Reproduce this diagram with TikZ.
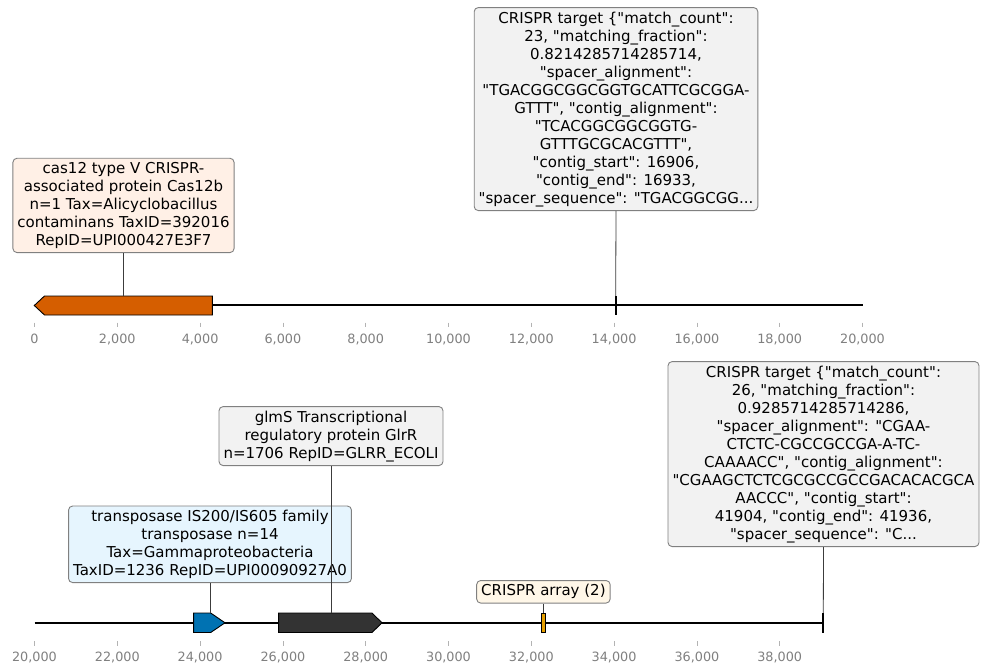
\documentclass[tikz,border=0pt]{standalone}
\usepackage{fontspec}
\setmainfont{DejaVu Sans}[Ligatures=TeXOff]
\definecolor{boxedge}{RGB}{128,128,128}
\definecolor{stemgray}{RGB}{60,60,60}
\definecolor{tickgray}{RGB}{128,128,128}
\definecolor{casfill}{RGB}{213,94,0}
\definecolor{bluefill}{RGB}{0,114,178}
\definecolor{darkfill}{RGB}{51,51,51}
\definecolor{arrfill}{RGB}{230,159,0}
\definecolor{boxorange}{RGB}{255,240,230}
\definecolor{boxblue}{RGB}{230,245,254}
\definecolor{boxgray}{RGB}{242,242,242}
\definecolor{boxcream}{RGB}{255,247,232}
\tikzset{
  lbl/.style={draw=boxedge, rounded corners=4bp, line width=0.9bp, align=center,
    inner xsep=4.5bp, inner ysep=4bp, font=\fontsize{15bp}{18bp}\selectfont, anchor=south},
  gene/.style={draw=black, line width=0.9bp},
  stem/.style={draw=stemgray, line width=0.8bp},
  axisline/.style={draw=black, line width=1.5bp},
  ticklbl/.style={text=tickgray, font=\fontsize{12.8bp}{15bp}\selectfont},
  tickmark/.style={draw=tickgray!60, line width=0.8bp},
  target/.style={draw=black, line width=2bp},
}
\begin{document}
\begin{tikzpicture}[x=1bp,y=-1bp]
\useasboundingbox[fill=white] (0,0) rectangle (986,672);

% ---------- top track ----------
\draw[axisline] (34.5,305) -- (862.5,305);
\foreach \i/\lab in {0/0,1/{2,000},2/{4,000},3/{6,000},4/{8,000},5/{10,000},6/{12,000},7/{14,000},8/{16,000},9/{18,000},10/{20,000}}{
  \draw[tickmark] (34.5+\i*82.8,322.5) -- (34.5+\i*82.8,327);
  \node[ticklbl] at (34.5+\i*82.8,339) {\lab};
}
\draw[gene, fill=casfill] (34.3,305.5) -- (44.5,296) -- (212.3,296) -- (212.3,315) -- (44.5,315) -- cycle;
\coordinate (g1) at (123.5,296);
\draw[target] (615.7,296) -- (615.7,315);
\coordinate (t1) at (615.7,296);

\node[lbl, fill=boxorange] (b1) at (123.5,253) {cas12 type V CRISPR-\\associated protein Cas12b\\n=1 Tax=Alicyclobacillus\\contaminans TaxID=392016\\RepID=UPI000427E3F7};
\node[lbl, fill=boxgray] (b2) at (616,211) {CRISPR target \{"match\_count":\\23, "matching\_fraction":\\0.8214285714285714,\\"spacer\_alignment":\\"TGACGGCGGCGGTGCATTCGCGGA-\\GTTT", "contig\_alignment":\\"TCACGGCGGCGGTG-\\GTTTGCGCACGTTT",\\"contig\_start": 16906,\\"contig\_end": 16933,\\"spacer\_sequence": "TGACGGCGG...};
\draw[stem] (b1.south) -- (g1);
\draw[stem] (b2.south) -- (t1);

% ---------- bottom track ----------
\draw[axisline] (34.5,623) -- (823.3,623);
\foreach \i/\lab in {0/{20,000},1/{22,000},2/{24,000},3/{26,000},4/{28,000},5/{30,000},6/{32,000},7/{34,000},8/{36,000},9/{38,000}}{
  \draw[tickmark] (34.5+\i*82.8,641) -- (34.5+\i*82.8,645.5);
  \node[ticklbl] at (34.5+\i*82.8,657.5) {\lab};
}
\draw[gene, fill=bluefill] (193.6,613) -- (210.7,613) -- (225,622.8) -- (210.7,632.5) -- (193.6,632.5) -- cycle;
\coordinate (g2) at (210,613);
\draw[gene, fill=darkfill] (278.6,613) -- (372,613) -- (382,622.8) -- (372,632.5) -- (278.6,632.5) -- cycle;
\coordinate (g3) at (331,613);
\draw[gene, fill=arrfill] (541.7,613) rectangle (545,632.5);
\coordinate (g4) at (543.4,613);
\draw[target] (823.3,613) -- (823.3,633);
\coordinate (t2) at (823.3,613);

\node[lbl, fill=boxgray] (b3) at (331,466) {glmS Transcriptional\\regulatory protein GlrR\\n=1706 RepID=GLRR\_ECOLI};
\node[lbl, fill=boxblue] (b4) at (210,583) {transposase IS200/IS605 family\\transposase n=14\\Tax=Gammaproteobacteria\\TaxID=1236 RepID=UPI00090927A0};
\node[lbl, fill=boxcream] (b5) at (543.4,603.5) {CRISPR array (2)};
\node[lbl, fill=boxgray] (b6) at (823.5,547) {CRISPR target \{"match\_count":\\26, "matching\_fraction":\\0.9285714285714286,\\"spacer\_alignment": "CGAA-\\CTCTC-CGCCGCCGA-A-TC-\\CAAAACC", "contig\_alignment":\\"CGAAGCTCTCGCGCCGCCGACACACGCA\\AACCC", "contig\_start":\\41904, "contig\_end": 41936,\\"spacer\_sequence": "C...};
\draw[stem] (b3.south) -- (g3);
\draw[stem] (b4.south) -- (g2);
\draw[stem] (b5.south) -- (g4);
\draw[stem] (b6.south) -- (t2);
\end{tikzpicture}
\end{document}
